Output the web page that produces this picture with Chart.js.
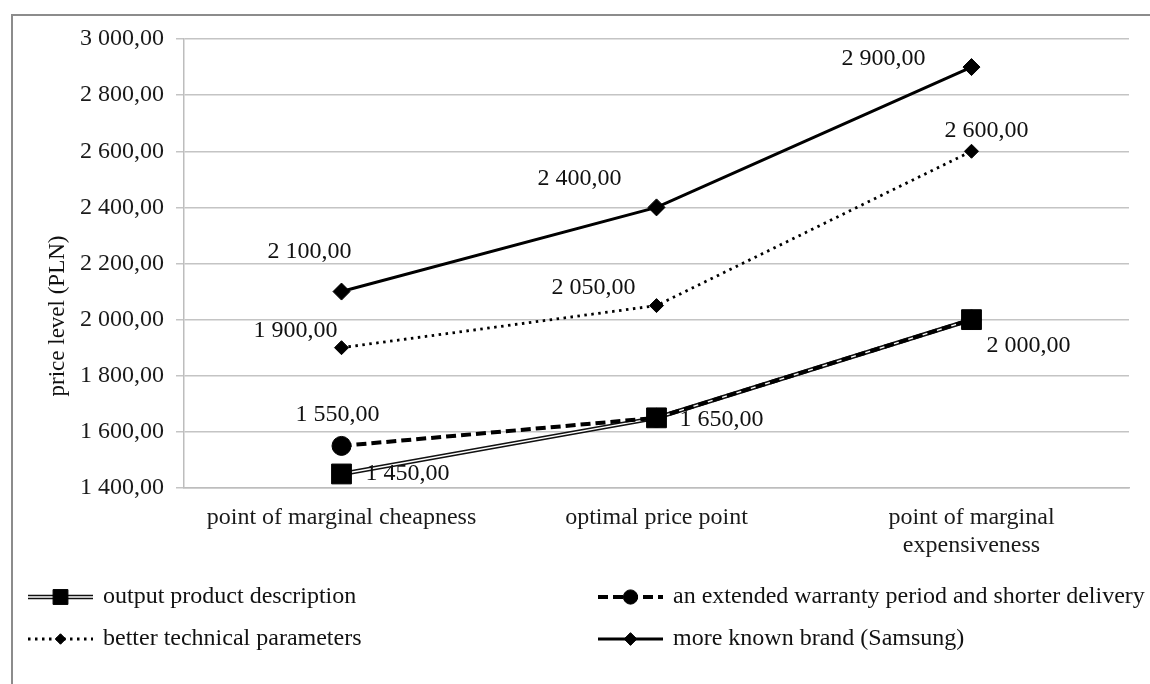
<!DOCTYPE html>
<html>
<head>
<meta charset="utf-8">
<script src="https://cdn.jsdelivr.net/npm/chart.js@4.4.0/dist/chart.umd.min.js"></script>
<style>
html, body { margin: 0; padding: 0; background: #fff; overflow: hidden; }
#wrap { position: relative; width: 1150px; height: 684px; }
#frame { position: absolute; left: 11px; top: 14px; width: 1200px; height: 800px; border: 2px solid #8c8c8c; box-sizing: border-box; }
#chart { position: absolute; left: 0; top: 0; }
</style>
</head>
<body>
<div id="wrap">
  <div id="frame"></div>
  <canvas id="chart" width="1150" height="684"></canvas>
</div>
<script>
const categories = ['point of marginal cheapness', 'optimal price point', ['point of marginal', 'expensiveness']];
const seriesNames = [
  'output product description',
  'an extended warranty period and shorter delivery',
  'better technical parameters',
  'more known brand (Samsung)'
];
const outputProduct = [1450, 1650, 2000];
const extendedWarranty = [1550, 1650, 2000];
const betterTechnical = [1900, 2050, 2600];
const knownBrand = [2100, 2400, 2900];
const yTickValues = [1400, 1600, 1800, 2000, 2200, 2400, 2600, 2800, 3000];
const yTitle = 'price level (PLN)';

const FONT = '"Liberation Serif", "Times New Roman", serif';
Chart.defaults.font.family = FONT;
Chart.defaults.font.size = 24;
Chart.defaults.color = '#222';

// 1450 -> "1 450,00"
function formatPLN(v) {
  const parts = v.toFixed(2).split('.');
  return parts[0].replace(/\B(?=(\d{3})+(?!\d))/g, ' ') + ',' + parts[1];
}

const pointLabels = {
  id: 'pointLabels',
  afterDatasetsDraw(chart, args, opts) {
    const ctx = chart.ctx;
    ctx.save();
    ctx.font = opts.font;
    ctx.fillStyle = opts.color;
    ctx.textAlign = 'center';
    ctx.textBaseline = 'middle';
    opts.offsets.forEach(function(offs, di) {
      if (!offs) return;
      const meta = chart.getDatasetMeta(di);
      const data = chart.data.datasets[di].data;
      offs.forEach(function(o, i) {
        if (!o) return;
        const pt = meta.data[i];
        ctx.fillText(formatPLN(data[i]), pt.x + o[0], pt.y + o[1]);
      });
    });
    ctx.restore();
  }
};

const sideTitle = {
  id: 'sideTitle',
  afterDraw(chart, args, opts) {
    const ctx = chart.ctx;
    ctx.save();
    ctx.translate(opts.x, opts.y);
    ctx.rotate(-Math.PI / 2);
    ctx.font = opts.font;
    ctx.fillStyle = opts.color;
    ctx.textAlign = 'center';
    ctx.textBaseline = 'middle';
    ctx.fillText(opts.text, 0, 0);
    ctx.restore();
  }
};

const gridLegend = {
  id: 'gridLegend',
  afterDraw(chart, args, opts) {
    const ctx = chart.ctx;
    ctx.save();
    opts.entries.forEach(function(e) {
      const x0 = e.x, x1 = e.x + opts.sampleWidth, cy = e.y;
      e.datasets.forEach(function(di) {
        const ds = chart.data.datasets[di];
        ctx.save();
        ctx.setLineDash(ds.borderDash || []);
        ctx.lineWidth = ds.borderWidth;
        ctx.strokeStyle = ds.borderColor;
        ctx.lineCap = ds.borderCapStyle || 'butt';
        ctx.beginPath();
        ctx.moveTo(x0, cy);
        ctx.lineTo(x1, cy);
        ctx.stroke();
        ctx.restore();
        if (ds.pointRadius > 0) {
          ctx.save();
          ctx.fillStyle = ds.pointBackgroundColor;
          ctx.strokeStyle = ds.pointBorderColor;
          ctx.lineWidth = ds.pointBorderWidth;
          Chart.helpers.drawPoint(ctx, {
            pointStyle: ds.pointStyle,
            radius: ds.pointRadius * opts.markerScale,
            borderWidth: ds.pointBorderWidth,
            rotation: 0
          }, (x0 + x1) / 2, cy);
          ctx.restore();
        }
      });
      ctx.font = opts.font;
      ctx.fillStyle = opts.color;
      ctx.textAlign = 'left';
      ctx.textBaseline = 'middle';
      ctx.fillText(e.text, x1 + opts.textGap, cy);
    });
    ctx.restore();
  }
};

const data = {
  labels: categories,
  datasets: [{
    // outer strokes of the double line
    label: seriesNames[0],
    data: outputProduct,
    borderColor: '#111',
    borderWidth: 4.5,
    pointRadius: 0,
    order: 4
  }, {
    label: seriesNames[0],
    data: outputProduct,
    borderColor: '#ffffff',
    borderWidth: 1.4,
    pointStyle: 'rect',
    pointRadius: 14,
    pointBackgroundColor: '#000',
    pointBorderColor: '#000',
    pointBorderWidth: 1,
    order: 3
  }, {
    label: seriesNames[1],
    data: extendedWarranty,
    borderColor: '#000',
    borderWidth: 4,
    borderDash: [10, 5],
    pointStyle: 'circle',
    pointRadius: 9.5,
    pointBackgroundColor: '#000',
    pointBorderColor: '#000',
    pointBorderWidth: 1,
    order: 2
  }, {
    label: seriesNames[2],
    data: betterTechnical,
    borderColor: '#000',
    borderWidth: 2.8,
    borderDash: [2.5, 4.5],
    pointStyle: 'rectRot',
    pointRadius: 7,
    pointBackgroundColor: '#000',
    pointBorderColor: '#000',
    pointBorderWidth: 1,
    order: 1
  }, {
    label: seriesNames[3],
    data: knownBrand,
    borderColor: '#000',
    borderWidth: 3,
    pointStyle: 'rectRot',
    pointRadius: 8.5,
    pointBackgroundColor: '#000',
    pointBorderColor: '#000',
    pointBorderWidth: 1,
    order: 0
  }]
};

const config = {
  type: 'line',
  data: data,
  options: {
    responsive: false,
    animation: false,
    layout: { padding: { top: 39, right: 21, left: 0, bottom: 0 } },
    elements: { line: { tension: 0, fill: false } },
    scales: {
      x: {
        offset: true,
        grid: { display: false, drawTicks: false },
        border: { display: true, color: '#bdbdbd', width: 1.5 },
        ticks: { padding: 15, color: '#1a1a1a', maxRotation: 0, autoSkip: false },
        afterFit: function(scale) { scale.height = 196; }
      },
      y: {
        min: 1400,
        max: 3000,
        afterBuildTicks: function(scale) {
          scale.ticks = yTickValues.map(function(v) { return { value: v }; });
        },
        grid: { color: '#c4c4c4', lineWidth: 1.5, tickLength: 8 },
        border: { display: true, color: '#bdbdbd', width: 1.5 },
        ticks: {
          padding: 12,
          color: '#1a1a1a',
          callback: function(v) { return formatPLN(v); }
        },
        afterFit: function(scale) { scale.width = 184; }
      }
    },
    plugins: {
      legend: { display: false },
      tooltip: { enabled: false },
      pointLabels: {
        font: '24px ' + FONT,
        color: '#111',
        offsets: [
          null,
          [[66, 0], [65, 2], [57, 26]],
          [[-4, -31], null, null],
          [[-46, -17], [-63, -18], [15, -21]],
          [[-32, -40], [-77, -29], [-88, -8]]
        ]
      },
      sideTitle: { text: yTitle, x: 58, y: 316, font: '23px ' + FONT, color: '#111' },
      gridLegend: {
        font: '24px ' + FONT,
        color: '#111',
        sampleWidth: 65,
        textGap: 10,
        markerScale: 0.75,
        entries: [
          { datasets: [0, 1], text: seriesNames[0], x: 28, y: 597 },
          { datasets: [2], text: seriesNames[1], x: 598, y: 597 },
          { datasets: [3], text: seriesNames[2], x: 28, y: 639 },
          { datasets: [4], text: seriesNames[3], x: 598, y: 639 }
        ]
      }
    }
  },
  plugins: [pointLabels, sideTitle, gridLegend]
};

const myChart = new Chart(
  document.getElementById('chart'),
  config
);
</script>
</body>
</html>
